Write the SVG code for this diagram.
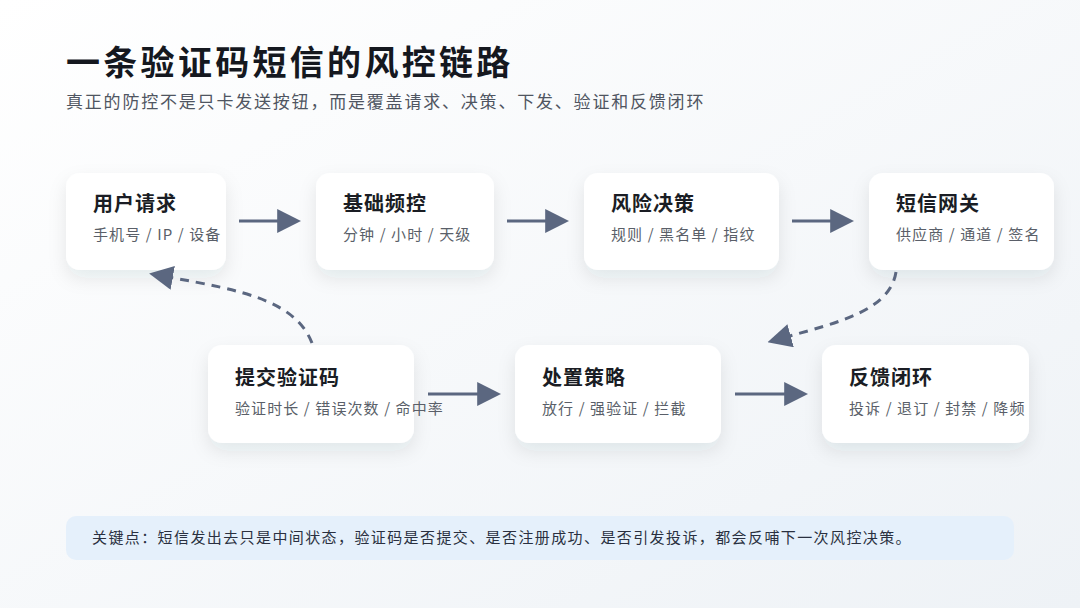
<svg xmlns="http://www.w3.org/2000/svg" width="1080" height="608" viewBox="0 0 1080 608">
<defs>
<linearGradient id="bg" x1="0" y1="0" x2="1" y2="1"><stop offset="0" stop-color="#ffffff"/><stop offset="1" stop-color="#eef2f6"/></linearGradient>
<filter id="sh" x="-20%" y="-20%" width="140%" height="160%"><feDropShadow dx="0" dy="8" stdDeviation="9" flood-color="#1e2a40" flood-opacity="0.09"/></filter>
<marker id="ah2" viewBox="0 0 10 10" refX="2" refY="5" markerWidth="8" markerHeight="8" orient="auto"><path d="M0,0 L10,5 L0,10 z" fill="#5b6780"/></marker>
<style>
.box{fill:#fff;filter:url(#sh)}
.t{font-family:"Noto Sans CJK SC",sans-serif;font-size:20px;font-weight:700;fill:#1a1d24;letter-spacing:1px}
.s{font-family:"Noto Sans CJK SC",sans-serif;font-size:15px;fill:#5a5f69;letter-spacing:1.1px}
.c{stroke:#5b6780;stroke-width:3;fill:none}
.d{stroke-dasharray:9 7}
</style>
</defs>
<rect width="1080" height="608" fill="url(#bg)"/>
<text x="66" y="75" font-family="Noto Sans CJK SC,sans-serif" font-size="34" font-weight="700" fill="#15181f" letter-spacing="3.3">一条验证码短信的风控链路</text>
<text x="66" y="108" font-family="Noto Sans CJK SC,sans-serif" font-size="17" fill="#4f5561" letter-spacing="1.8">真正的防控不是只卡发送按钮，而是覆盖请求、决策、下发、验证和反馈闭环</text>
<g id="n1"><rect class="box" x="66" y="173" width="160" height="97" rx="14"/><text class="t" x="93" y="211">用户请求</text><text class="s" x="93" y="240">手机号 / IP / 设备</text></g>
<g id="n2"><rect class="box" x="316" y="173" width="178" height="97" rx="14"/><text class="t" x="343" y="211">基础频控</text><text class="s" x="343" y="240">分钟 / 小时 / 天级</text></g>
<g id="n3"><rect class="box" x="584" y="173" width="195" height="97" rx="14"/><text class="t" x="611" y="211">风险决策</text><text class="s" x="611" y="240">规则 / 黑名单 / 指纹</text></g>
<g id="n4"><rect class="box" x="869" y="173" width="185" height="97" rx="14"/><text class="t" x="896" y="211">短信网关</text><text class="s" x="896" y="240">供应商 / 通道 / 签名</text></g>
<g id="n5"><rect class="box" x="208" y="345" width="206" height="98" rx="14"/><text class="t" x="235" y="385">提交验证码</text><text class="s" x="235" y="414">验证时长 / 错误次数 / 命中率</text></g>
<g id="n6"><rect class="box" x="515" y="345" width="206" height="98" rx="14"/><text class="t" x="542" y="385">处置策略</text><text class="s" x="542" y="414">放行 / 强验证 / 拦截</text></g>
<g id="n7"><rect class="box" x="822" y="345" width="207" height="98" rx="14"/><text class="t" x="849" y="385">反馈闭环</text><text class="s" x="849" y="414">投诉 / 退订 / 封禁 / 降频</text></g>
<g id="connectors">
<path class="c" d="M239,221 H282" marker-end="url(#ah2)"/>
<path class="c" d="M507,221 H550" marker-end="url(#ah2)"/>
<path class="c" d="M792,221 H835" marker-end="url(#ah2)"/>
<path class="c" d="M428,394 H482" marker-end="url(#ah2)"/>
<path class="c" d="M735,394 H789" marker-end="url(#ah2)"/>
<path class="c d" d="M312,343 C295,300 240,290 168,277" marker-end="url(#ah2)"/>
<path class="c d" d="M896,272 C890,310 840,322 786,337" marker-end="url(#ah2)"/>
</g>
<rect x="66" y="516" width="948" height="44" rx="10" fill="#e5f0fb"/>
<text x="92" y="543" font-family="Noto Sans CJK SC,sans-serif" font-size="15" fill="#2a3040" letter-spacing="1.4">关键点：短信发出去只是中间状态，验证码是否提交、是否注册成功、是否引发投诉，都会反哺下一次风控决策。</text>
</svg>
